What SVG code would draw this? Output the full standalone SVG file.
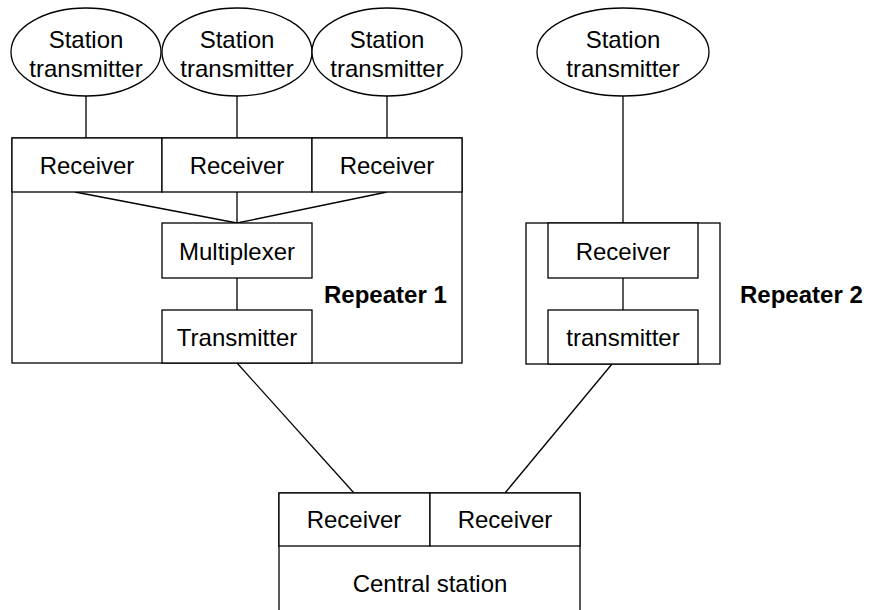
<svg xmlns="http://www.w3.org/2000/svg" width="872" height="610" viewBox="0 0 872 610">
<style>
.s{fill:#fff;stroke:#000;stroke-width:1.3}
.l{stroke:#000;stroke-width:1.3;fill:none}
text{font-family:"Liberation Sans",Arial,sans-serif;font-size:24px;fill:#000;text-anchor:middle}
.b{font-weight:bold;text-anchor:start}
</style>
<rect width="872" height="610" fill="#fff"/>
<g id="connectors">
<line class="l" x1="86" y1="96" x2="86" y2="138"/>
<line class="l" x1="237" y1="96" x2="237" y2="138"/>
<line class="l" x1="387" y1="96" x2="387" y2="138"/>
<line class="l" x1="623" y1="96" x2="623" y2="223"/>
<line class="l" x1="75" y1="192" x2="237" y2="223"/>
<line class="l" x1="237" y1="192" x2="237" y2="223"/>
<line class="l" x1="387" y1="192" x2="237" y2="223"/>
<line class="l" x1="237" y1="278" x2="237" y2="310"/>
<line class="l" x1="623" y1="278" x2="623" y2="310"/>
<line class="l" x1="237" y1="363" x2="354" y2="493"/>
<line class="l" x1="612" y1="364" x2="505" y2="493"/>
</g>
<g id="station1"><ellipse class="s" cx="86" cy="52" rx="75" ry="44"/><text x="86" y="48">Station</text><text x="86" y="77">transmitter</text></g>
<g id="station2"><ellipse class="s" cx="237" cy="52" rx="75" ry="44"/><text x="237" y="48">Station</text><text x="237" y="77">transmitter</text></g>
<g id="station3"><ellipse class="s" cx="387" cy="52" rx="75" ry="44"/><text x="387" y="48">Station</text><text x="387" y="77">transmitter</text></g>
<g id="station4"><ellipse class="s" cx="623" cy="52" rx="86" ry="44"/><text x="623" y="48">Station</text><text x="623" y="77">transmitter</text></g>
<g id="repeater1">
<rect class="s" x="12" y="138" width="450" height="225" style="fill:none"/>
<text class="b" x="324" y="303">Repeater 1</text>
</g>
<g id="r1-receiver1"><rect class="s" x="12" y="138" width="150" height="54"/><text x="87" y="174">Receiver</text></g>
<g id="r1-receiver2"><rect class="s" x="162" y="138" width="150" height="54"/><text x="237" y="174">Receiver</text></g>
<g id="r1-receiver3"><rect class="s" x="312" y="138" width="150" height="54"/><text x="387" y="174">Receiver</text></g>
<g id="multiplexer"><rect class="s" x="162" y="223" width="150" height="55"/><text x="237" y="260">Multiplexer</text></g>
<g id="r1-transmitter"><rect class="s" x="162" y="310" width="150" height="53"/><text x="237" y="346">Transmitter</text></g>
<g id="repeater2">
<rect class="s" x="526" y="223" width="194" height="141" style="fill:none"/>
<text class="b" x="740" y="303">Repeater 2</text>
</g>
<g id="r2-receiver"><rect class="s" x="548" y="223" width="150" height="55"/><text x="623" y="260">Receiver</text></g>
<g id="r2-transmitter"><rect class="s" x="548" y="310" width="150" height="54"/><text x="623" y="346">transmitter</text></g>
<g id="central">
<rect class="s" x="279" y="493" width="301" height="125"/>
<text x="430" y="592">Central station</text>
</g>
<g id="c-receiver1"><rect class="s" x="279" y="493" width="151" height="53"/><text x="354" y="528">Receiver</text></g>
<g id="c-receiver2"><rect class="s" x="430" y="493" width="150" height="53"/><text x="505" y="528">Receiver</text></g>
</svg>
